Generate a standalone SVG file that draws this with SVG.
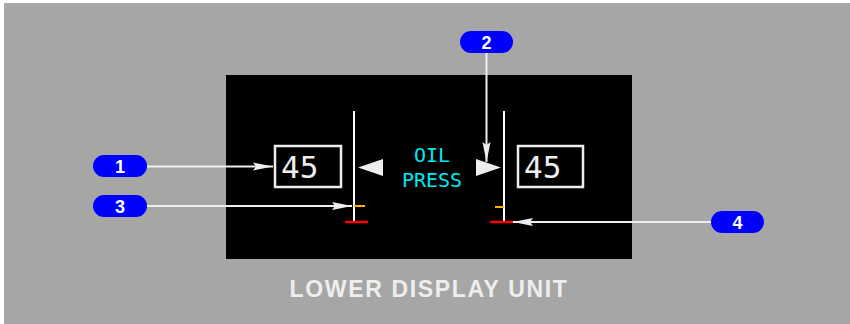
<svg xmlns="http://www.w3.org/2000/svg" width="850" height="324" viewBox="0 0 850 324">
<defs>
<style>
.bg{fill:#a6a6a6}
.screen{fill:#000}
.box{fill:none;stroke:#eeeeee;stroke-width:2.5}
.val{font-family:"DejaVu Sans Mono",monospace;font-size:31px;fill:#eeeeee}
.lbl{font-family:"DejaVu Sans Mono",monospace;font-size:20px;fill:#00e8f0;text-anchor:middle}
.scale{stroke:#ffffff;stroke-width:2}
.amber{stroke:#ffb000;stroke-width:2}
.red{stroke:#ff0000;stroke-width:2.5}
.ptr{fill:#eeeeee}
.badge{fill:#0000ff}
.num{font-family:"Liberation Sans",Arial,sans-serif;font-weight:bold;font-size:18px;fill:#ffffff;text-anchor:middle}
.conn{stroke:#eeeeee;stroke-width:2;fill:none;marker-end:url(#ah)}
.title{font-family:"Liberation Sans",Arial,sans-serif;font-weight:bold;font-size:23px;fill:#eeeeee;text-anchor:middle;letter-spacing:1.65px}
</style>
<marker id="ah" viewBox="0 0 20 10" refX="20" refY="5" markerWidth="20" markerHeight="10" markerUnits="userSpaceOnUse" orient="auto">
<path d="M0,1 L20,5 L0,9 L3,5 Z" fill="#eeeeee"/>
</marker>
</defs>
<rect width="850" height="324" fill="#ffffff"/>
<rect class="bg" x="4" y="3" width="846" height="321"/>
<g id="display">
<rect class="screen" x="226" y="75" width="406" height="184"/>
</g>
<g id="left-gauge">
<rect class="box" x="275" y="146" width="66" height="41"/>
<text class="val" x="281" y="178">45</text>
<line class="scale" x1="354" y1="111" x2="354" y2="222"/>
<line class="amber" x1="354" y1="206" x2="365" y2="206"/>
<line class="red" x1="345" y1="222" x2="368" y2="222"/>
<polygon class="ptr" points="358,167.5 383,159 383,176"/>
</g>
<g id="right-gauge">
<rect class="box" x="518" y="146" width="65" height="41"/>
<text class="val" x="524" y="178">45</text>
<line class="scale" x1="504" y1="111" x2="504" y2="222"/>
<line class="amber" x1="495" y1="207" x2="504" y2="207"/>
<line class="red" x1="490" y1="222" x2="513" y2="222"/>
<polygon class="ptr" points="476,159 476,176 501,167.5"/>
</g>
<g id="oil-press-label">
<text class="lbl" x="432" y="162">OIL</text>
<text class="lbl" x="432" y="187">PRESS</text>
</g>
<g id="connectors">
<line class="conn" x1="146" y1="166.5" x2="273" y2="166.5"/>
<line class="conn" x1="486.5" y1="53" x2="486.5" y2="162"/>
<line class="conn" x1="146" y1="206" x2="352" y2="206"/>
<line class="conn" x1="712" y1="222" x2="513" y2="222"/>
</g>
<g id="callout-1">
<rect class="badge" x="93" y="155" width="54" height="22" rx="11"/>
<text class="num" x="120" y="173">1</text>
</g>
<g id="callout-2">
<rect class="badge" x="460" y="31" width="53" height="22" rx="11"/>
<text class="num" x="486.5" y="49">2</text>
</g>
<g id="callout-3">
<rect class="badge" x="93" y="195" width="54" height="22" rx="11"/>
<text class="num" x="120" y="213">3</text>
</g>
<g id="callout-4">
<rect class="badge" x="711" y="211" width="53" height="22" rx="11"/>
<text class="num" x="737.5" y="229">4</text>
</g>
<g id="caption">
<text class="title" x="429" y="297">LOWER DISPLAY UNIT</text>
</g>
</svg>
